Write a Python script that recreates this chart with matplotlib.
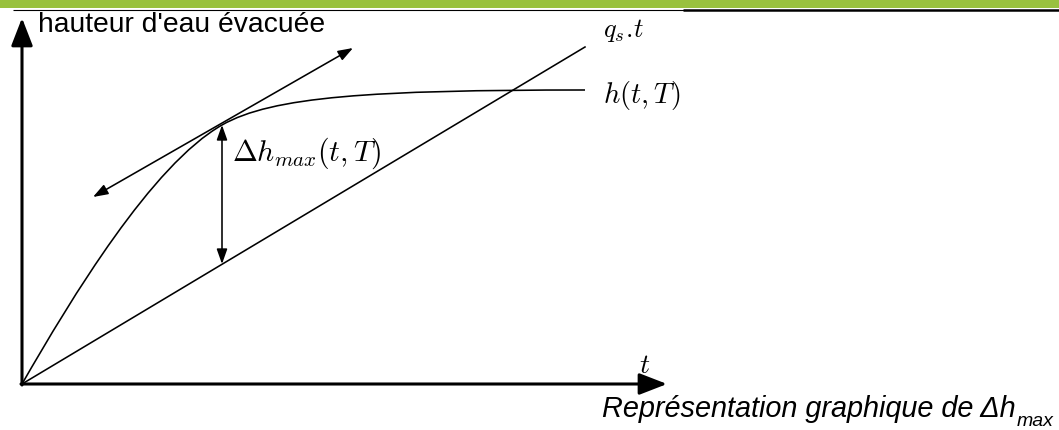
import matplotlib
matplotlib.use("Agg")
import matplotlib.pyplot as plt
from matplotlib.path import Path
from matplotlib.patches import PathPatch

plt.rcParams['mathtext.fontset'] = 'cm'

# ---- data (units: pixels, origin at the axes corner) ----
# curve h(t,T): two cubic Bezier segments (anchor / control points)
curve_seg1 = [(0, 0), (50, 87), (130, 219), (200, 259)]
curve_seg2 = [(200, 259), (250, 287.6), (350, 294), (563, 294)]
# straight line q_s.t
qs_line_t = [0, 563]
qs_line_h = [0, 337]
# tangent at the point of max difference
tangent_start = (71, 187)
tangent_end = (331, 336)
# delta h max vertical arrow
delta_t = 200
delta_h_top = 259
delta_h_bottom = 120
# axis extents
x_axis_end = 645
y_axis_end = 366

labels = {
    "ylabel": "hauteur d'eau évacuée",
    "qs": r"$q_s{.}\!t$",
    "h": r"$h(t,T)$",
    "dh": r"$\Delta h_{max}(t,T)$",
    "t": r"$t$",
    "caption": "Représentation graphique de Δh",
    "caption_sub": "max",
}

fig = plt.figure(figsize=(10.59, 4.30), dpi=100)
ax = fig.add_axes([0, 0, 1, 1])
ax.set_xlim(-22, 1037)
ax.set_ylim(-46, 384)
ax.axis('off')

# header band
ax.axhspan(376, 384, color='#99C13E', lw=0)
ax.plot([-9, 662], [374.5, 374.5], color='black', lw=0.8, solid_capstyle='butt')
ax.plot([661, 1037], [374, 374], color='black', lw=1.8, solid_capstyle='butt')

# axes arrows
ax_arrow = dict(arrowstyle='-|>,head_length=0.85,head_width=0.33', lw=2.2,
                color='black', shrinkA=0, shrinkB=0, mutation_scale=20)
ax.annotate('', xy=(x_axis_end, 0), xytext=(-1, 0), arrowprops=ax_arrow)
ax.annotate('', xy=(0, y_axis_end), xytext=(0, -1), arrowprops=ax_arrow)

# q_s.t line
ax.plot(qs_line_t, qs_line_h, color='black', lw=1.15)

# curve h(t,T)
verts = curve_seg1 + curve_seg2[1:]
codes = [Path.MOVETO] + [Path.CURVE4] * 6
ax.add_patch(PathPatch(Path(verts, codes), facecolor='none', edgecolor='black', lw=1.15))

# tangent double arrow
thin_arrow = dict(arrowstyle='<|-|>,head_length=0.45,head_width=0.16', lw=1.15,
                  color='black', shrinkA=0, shrinkB=0, mutation_scale=20)
ax.annotate('', xy=tangent_end, xytext=tangent_start, arrowprops=thin_arrow)
ax.annotate('', xy=(delta_t, delta_h_top), xytext=(delta_t, delta_h_bottom),
            arrowprops=thin_arrow)

# labels
ax.text(16, 359, labels["ylabel"], family='Liberation Sans', fontsize=20.3,
        ha='left', va='center')
ax.text(581, 353, labels["qs"], fontsize=19, ha='left', va='center')
ax.text(581, 289, labels["h"], fontsize=20.5, ha='left', va='center')
ax.text(210, 231, labels["dh"], fontsize=21.5, ha='left', va='center')
ax.text(623, 19, labels["t"], fontsize=20, ha='center', va='center')

cap = ax.text(580, -33, labels["caption"], family='Liberation Sans', style='italic',
              fontsize=20.8, ha='left', va='baseline')
ax.annotate(labels["caption_sub"], xy=(1, 0), xycoords=cap, xytext=(0.5, -2),
            textcoords='offset points', family='Liberation Sans', style='italic',
            fontsize=14, ha='left', va='baseline')

fig.savefig('out.png', dpi=100)
